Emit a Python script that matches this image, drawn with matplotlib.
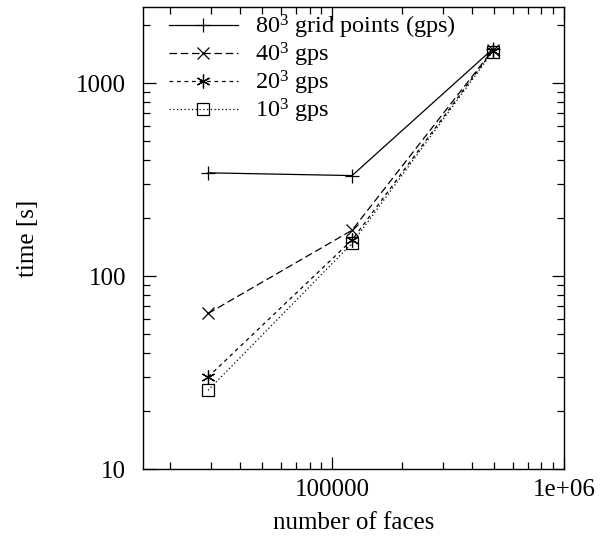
import matplotlib
matplotlib.use("Agg")
import matplotlib.pyplot as plt
from matplotlib.ticker import FixedLocator, LogLocator, NullFormatter

plt.rcParams['font.family'] = ['Liberation Serif', 'DejaVu Serif']
plt.rcParams['mathtext.fontset'] = 'custom'
plt.rcParams['mathtext.rm'] = 'Liberation Serif'
plt.rcParams['mathtext.it'] = 'Liberation Serif:italic'
plt.rcParams['mathtext.default'] = 'regular'

# data
faces = [29200, 122000, 492000]
t_80 = [343, 332, 1500]
t_40 = [64, 173, 1480]
t_20 = [30, 154, 1470]
t_10 = [25.6, 148, 1450]

labels = [r'80$^3$ grid points (gps)', r'40$^3$ gps', r'20$^3$ gps', r'10$^3$ gps']

fig = plt.figure(figsize=(6.11, 5.45), dpi=100)
ax = fig.add_axes([0.234, 0.1394, 0.689, 0.8476])

lw = 0.9
ax.plot(faces, t_80, color='black', lw=lw, ls='-', marker='+', ms=10, mew=0.9, label=labels[0])
ax.plot(faces, t_40, color='black', lw=lw, ls=(0, (6, 3)), marker='x', ms=9, mew=0.9, label=labels[1])
ax.plot(faces, t_20, color='black', lw=lw, ls=(0, (3, 3)), marker=(6, 2, 0), ms=10, mew=0.9, label=labels[2])
ax.plot(faces, t_10, color='black', lw=lw, ls=(0, (1, 2)), marker='s', ms=8, mew=0.9,
        mfc='none', label=labels[3])

ax.set_xscale('log')
ax.set_yscale('log')
ax.set_xlim(15300, 1e6)
ax.set_ylim(10, 2480)

ax.xaxis.set_major_locator(FixedLocator([1e5, 1e6]))
ax.set_xticklabels(['100000', '1e+06'])
ax.xaxis.set_minor_locator(LogLocator(base=10, subs=range(2, 10)))
ax.xaxis.set_minor_formatter(NullFormatter())
ax.yaxis.set_major_locator(FixedLocator([10, 100, 1000]))
ax.set_yticklabels(['10', '100', '1000'])
ax.yaxis.set_minor_locator(LogLocator(base=10, subs=range(2, 10)))
ax.yaxis.set_minor_formatter(NullFormatter())

ax.tick_params(which='both', direction='in', top=True, right=True, width=0.9, labelsize=18)
ax.tick_params(which='major', length=9)
ax.tick_params(which='minor', length=5)
ax.tick_params(axis='x', which='major', pad=7)
ax.tick_params(axis='y', which='major', pad=12)
for s in ax.spines.values():
    s.set_linewidth(1.0)

ax.set_xlabel('number of faces', fontsize=18, labelpad=8)
ax.set_ylabel('time [s]', fontsize=18, labelpad=27)

ax.legend(loc='upper left', bbox_to_anchor=(0.021, 1.025), frameon=False, fontsize=17.5,
          handlelength=2.85, handletextpad=0.7, labelspacing=0.0, borderpad=0.2)

fig.savefig('out.png', dpi=100)
